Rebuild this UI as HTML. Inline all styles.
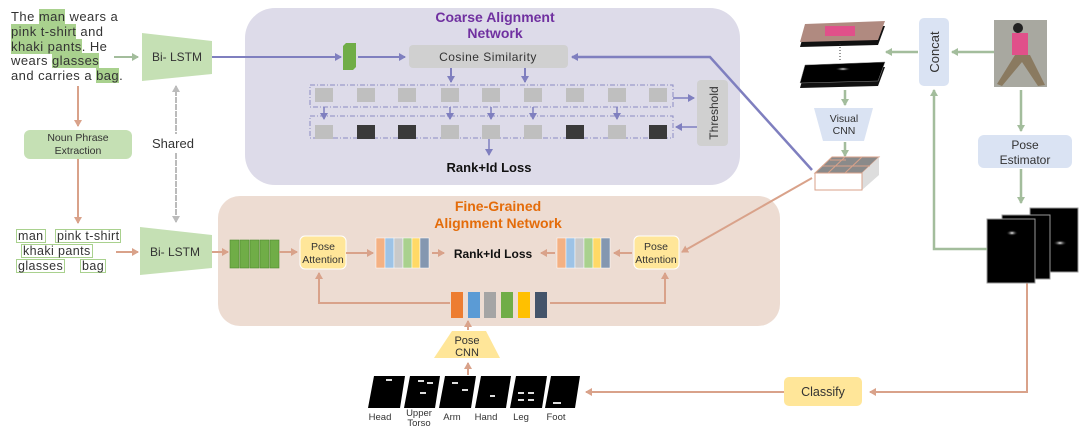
<!DOCTYPE html>
<html><head><meta charset="utf-8"><style>
html,body{margin:0;padding:0;background:#fff;}
svg{display:block;font-family:"Liberation Sans",sans-serif;}
#wrap{position:relative;width:1083px;height:436px;}
.sent{position:absolute;left:11px;top:10px;width:135px;font-family:"Liberation Sans",sans-serif;font-size:13px;letter-spacing:0.45px;line-height:14.8px;color:#333;white-space:nowrap;}
.sent span{background:#a9d18e;}
.nl{position:absolute;font-family:"Liberation Sans",sans-serif;font-size:12.5px;letter-spacing:0.4px;color:#333;border:1.5px solid #a9d18e;background:#fff;line-height:12px;padding:0 1px;white-space:nowrap;}
</style></head><body><div id="wrap">
<svg width="1083" height="436" viewBox="0 0 1083 436" xmlns="http://www.w3.org/2000/svg">
<defs>
<marker id="ab" markerWidth="8" markerHeight="8" refX="6" refY="4" orient="auto" markerUnits="userSpaceOnUse"><path d="M0,0 L7,4 L0,8 z" fill="#7f7fbf"/></marker>
<marker id="ao" markerWidth="8" markerHeight="8" refX="6" refY="4" orient="auto" markerUnits="userSpaceOnUse"><path d="M0,0 L7,4 L0,8 z" fill="#d9a28a"/></marker>
<marker id="ag" markerWidth="8" markerHeight="8" refX="6" refY="4" orient="auto" markerUnits="userSpaceOnUse"><path d="M0,0 L7,4 L0,8 z" fill="#a3bd9c"/></marker>
<marker id="ad" markerWidth="8" markerHeight="8" refX="6" refY="4" orient="auto" markerUnits="userSpaceOnUse"><path d="M0,0 L7,4 L0,8 z" fill="#bbb"/></marker>
<radialGradient id="spot"><stop offset="0" stop-color="#fff"/><stop offset="1" stop-color="#000" stop-opacity="0"/></radialGradient>
</defs>

<rect x="245" y="8" width="495" height="177" rx="30" fill="#dddbe9"/>
<rect x="218" y="196" width="562" height="130" rx="22" fill="#eddcd2"/>
<text x="495" y="22" text-anchor="middle" font-size="14" font-weight="bold" fill="#7030a0">Coarse Alignment</text>
<text x="495" y="38" text-anchor="middle" font-size="14" font-weight="bold" fill="#7030a0">Network</text>
<text x="498" y="211" text-anchor="middle" font-size="14" font-weight="bold" fill="#e46c0a">Fine-Grained</text>
<text x="498" y="228" text-anchor="middle" font-size="14" font-weight="bold" fill="#e46c0a">Alignment Network</text>

<line x1="114" y1="57" x2="138" y2="57" stroke="#a3bd9c" stroke-width="2" marker-end="url(#ag)"/>

<polygon points="142,33 212,41 212,74 142,81" fill="#c5e0b4"/>
<text x="177" y="61" text-anchor="middle" font-size="12" fill="#333">Bi- LSTM</text>
<polygon points="140,227 212,235 212,268 140,275" fill="#c5e0b4"/>
<text x="175" y="256" text-anchor="middle" font-size="12" fill="#333">Bi- LSTM</text>
<line x1="176" y1="222" x2="176" y2="86" stroke="#bbb" stroke-width="2" stroke-dasharray="4,3" marker-end="url(#ad)"/>
<line x1="176" y1="90" x2="176" y2="222" stroke="#bbb" stroke-width="2" stroke-dasharray="4,3" marker-end="url(#ad)"/>
<rect x="150" y="134" width="60" height="18" fill="#fff"/>
<text x="152" y="148" font-size="13" fill="#333">Shared</text>

<line x1="78" y1="86" x2="78" y2="126" stroke="#d9a28a" stroke-width="2" marker-end="url(#ao)"/>
<rect x="24" y="130" width="108" height="29" rx="6" fill="#c5e0b4"/>
<text x="78" y="141" text-anchor="middle" font-size="10.5" fill="#333">Noun Phrase</text>
<text x="78" y="154" text-anchor="middle" font-size="10.5" fill="#333">Extraction</text>
<line x1="78" y1="159" x2="78" y2="223" stroke="#d9a28a" stroke-width="2" marker-end="url(#ao)"/>
<line x1="116" y1="252" x2="138" y2="252" stroke="#d9a28a" stroke-width="2" marker-end="url(#ao)"/>

<line x1="212" y1="57" x2="341" y2="57" stroke="#7f7fbf" stroke-width="2" marker-end="url(#ab)"/>
<polygon points="343,46 346,43 356,43 356,67 353,70 343,70" fill="#70ad47"/>
<line x1="358" y1="57" x2="405" y2="57" stroke="#7f7fbf" stroke-width="2" marker-end="url(#ab)"/>
<rect x="409" y="45" width="159" height="23" rx="4" fill="#d0d0d0"/>
<text x="488" y="61" text-anchor="middle" font-size="12" fill="#333" letter-spacing="0.5">Cosine  Similarity</text>
<polyline points="812,170 710,57 572,57" fill="none" stroke="#7f7fbf" stroke-width="2.5" marker-end="url(#ab)"/>
<line x1="451" y1="68" x2="451" y2="82" stroke="#7f7fbf" stroke-width="2" marker-end="url(#ab)"/>
<line x1="525" y1="68" x2="525" y2="82" stroke="#7f7fbf" stroke-width="2" marker-end="url(#ab)"/>
<rect x="310" y="85" width="363" height="22" fill="none" stroke="#8b8bc4" stroke-dasharray="5,2,1,2"/>
<rect x="310" y="116" width="363" height="22" fill="none" stroke="#8b8bc4" stroke-dasharray="5,2,1,2"/>
<g fill="#bfbfbf">
<rect x="315" y="88" width="18" height="14"/><rect x="357" y="88" width="18" height="14"/><rect x="398" y="88" width="18" height="14"/><rect x="441" y="88" width="18" height="14"/><rect x="482" y="88" width="18" height="14"/><rect x="524" y="88" width="18" height="14"/><rect x="566" y="88" width="18" height="14"/><rect x="608" y="88" width="18" height="14"/><rect x="649" y="88" width="18" height="14"/>
<rect x="315" y="125" width="18" height="14"/><rect x="441" y="125" width="18" height="14"/><rect x="482" y="125" width="18" height="14"/><rect x="524" y="125" width="18" height="14"/><rect x="608" y="125" width="18" height="14"/>
</g>
<g fill="#3a3a3a">
<rect x="357" y="125" width="18" height="14"/><rect x="398" y="125" width="18" height="14"/><rect x="566" y="125" width="18" height="14"/><rect x="649" y="125" width="18" height="14"/>
</g>
<g stroke="#7f7fbf" stroke-width="1.5" marker-end="url(#ab)">
<line x1="324" y1="107" x2="324" y2="119"/><line x1="450" y1="107" x2="450" y2="119"/><line x1="491" y1="107" x2="491" y2="119"/><line x1="533" y1="107" x2="533" y2="119"/><line x1="617" y1="107" x2="617" y2="119"/>
<line x1="673" y1="98" x2="694" y2="98"/><line x1="697" y1="127" x2="676" y2="127"/>
<line x1="489" y1="139" x2="489" y2="155"/>
</g>
<rect x="697" y="80" width="31" height="66" rx="4" fill="#d0d0d0"/>
<text transform="translate(718,113) rotate(-90)" text-anchor="middle" font-size="12" fill="#333">Threshold</text>
<text x="489" y="172" text-anchor="middle" font-size="13" font-weight="bold" fill="#111">Rank+Id Loss</text>

<line x1="212" y1="252" x2="228" y2="252" stroke="#d9a28a" stroke-width="2" marker-end="url(#ao)"/>
<g fill="#70ad47" stroke="#4e8a30" stroke-width="0.6">
<rect x="230" y="240" width="9" height="28"/><rect x="240" y="240" width="9" height="28"/><rect x="250" y="240" width="9" height="28"/><rect x="260" y="240" width="9" height="28"/><rect x="270" y="240" width="9" height="28"/>
</g>
<line x1="279" y1="252" x2="297" y2="252" stroke="#d9a28a" stroke-width="2" marker-end="url(#ao)"/>
<rect x="300" y="236" width="46" height="33" rx="5" fill="#ffe699" stroke="#fff"/>
<text x="323" y="250" text-anchor="middle" font-size="10.5" fill="#333">Pose</text>
<text x="323" y="263" text-anchor="middle" font-size="10.5" fill="#333">Attention</text>
<line x1="346" y1="253" x2="373" y2="253" stroke="#d9a28a" stroke-width="2" marker-end="url(#ao)"/>
<g stroke="#fff" stroke-width="0.5">
<rect x="376" y="238" width="9" height="30" fill="#f4b183"/><rect x="385" y="238" width="9" height="30" fill="#9dc3e6"/><rect x="394" y="238" width="9" height="30" fill="#c9c9c9"/><rect x="403" y="238" width="9" height="30" fill="#a9d18e"/><rect x="412" y="238" width="8" height="30" fill="#ffd966"/><rect x="420" y="238" width="9" height="30" fill="#8497b0"/>
<rect x="557" y="238" width="9" height="30" fill="#f4b183"/><rect x="566" y="238" width="9" height="30" fill="#9dc3e6"/><rect x="575" y="238" width="9" height="30" fill="#c9c9c9"/><rect x="584" y="238" width="9" height="30" fill="#a9d18e"/><rect x="593" y="238" width="8" height="30" fill="#ffd966"/><rect x="601" y="238" width="9" height="30" fill="#8497b0"/>
</g>
<line x1="432" y1="253" x2="444" y2="253" stroke="#d9a28a" stroke-width="2" marker-end="url(#ao)"/>
<text x="493" y="258" text-anchor="middle" font-size="12" font-weight="bold" fill="#111">Rank+Id Loss</text>
<line x1="555" y1="253" x2="541" y2="253" stroke="#d9a28a" stroke-width="2" marker-end="url(#ao)"/>
<line x1="632" y1="253" x2="614" y2="253" stroke="#d9a28a" stroke-width="2" marker-end="url(#ao)"/>
<rect x="634" y="236" width="45" height="33" rx="5" fill="#ffe699" stroke="#fff"/>
<text x="656" y="250" text-anchor="middle" font-size="10.5" fill="#333">Pose</text>
<text x="656" y="263" text-anchor="middle" font-size="10.5" fill="#333">Attention</text>
<line x1="812" y1="178" x2="682" y2="252" stroke="#d9a28a" stroke-width="2" marker-end="url(#ao)"/>
<polyline points="450,303 319,303 319,273" fill="none" stroke="#d9a28a" stroke-width="2" marker-end="url(#ao)"/>
<polyline points="550,303 665,303 665,273" fill="none" stroke="#d9a28a" stroke-width="2" marker-end="url(#ao)"/>
<g>
<rect x="451" y="292" width="12" height="26" fill="#ed7d31"/><rect x="468" y="292" width="12" height="26" fill="#5b9bd5"/><rect x="484" y="292" width="12" height="26" fill="#a5a5a5"/><rect x="501" y="292" width="12" height="26" fill="#70ad47"/><rect x="518" y="292" width="12" height="26" fill="#ffc000"/><rect x="535" y="292" width="12" height="26" fill="#44546a"/>
</g>
<line x1="468" y1="330" x2="468" y2="321" stroke="#d9a28a" stroke-width="2" marker-end="url(#ao)"/>
<polygon points="452,331 486,331 500,358 434,358" fill="#ffe699"/>
<text x="467" y="344" text-anchor="middle" font-size="11" fill="#333">Pose</text>
<text x="467" y="356" text-anchor="middle" font-size="11" fill="#333">CNN</text>
<line x1="468" y1="375" x2="468" y2="363" stroke="#d9a28a" stroke-width="2" marker-end="url(#ao)"/>
<g fill="#000">
<polygon points="374,376 405,376 400,408 368,408"/>
<polygon points="410,376 440,376 435,408 404,408"/>
<polygon points="445,376 476,376 471,408 439,408"/>
<polygon points="481,376 511,376 506,408 475,408"/>
<polygon points="516,376 547,376 542,408 510,408"/>
<polygon points="551,376 580,376 575,408 545,408"/>
</g>
<g fill="#ddd"><rect x="386" y="379" width="6" height="2"/><rect x="418" y="380" width="6" height="2"/><rect x="427" y="382" width="6" height="2"/><rect x="420" y="392" width="6" height="2"/><rect x="452" y="382" width="6" height="2"/><rect x="462" y="389" width="6" height="2"/><rect x="490" y="395" width="5" height="2"/><rect x="518" y="392" width="6" height="2"/><rect x="518" y="399" width="6" height="2"/><rect x="528" y="392" width="6" height="2"/><rect x="528" y="399" width="6" height="2"/><rect x="553" y="402" width="8" height="2"/></g>
<g font-size="9.5" fill="#333" text-anchor="middle">
<text x="380" y="420">Head</text><text x="419" y="416">Upper</text><text x="419" y="426">Torso</text><text x="452" y="420">Arm</text><text x="486" y="420">Hand</text><text x="521" y="420">Leg</text><text x="556" y="420">Foot</text>
</g>
<polyline points="1027,283 1027,392 870,392" fill="none" stroke="#d9a28a" stroke-width="2" marker-end="url(#ao)"/>
<rect x="784" y="377" width="78" height="29" rx="5" fill="#ffe699"/>
<text x="823" y="396" text-anchor="middle" font-size="12.5" fill="#333">Classify</text>
<line x1="784" y1="392" x2="586" y2="392" stroke="#d9a28a" stroke-width="2" marker-end="url(#ao)"/>

<polygon points="805,29 885,26 878,45 800,47" fill="#111"/>
<polygon points="805,24 885,21 878,40 800,42" fill="#b08a80"/>
<rect x="825" y="26" width="30" height="10" fill="#e0508a"/>
<line x1="840" y1="44" x2="840" y2="60" stroke="#333" stroke-dasharray="1,2"/>
<polygon points="805,70 885,67 878,86 800,88" fill="#111"/>
<polygon points="805,65 885,62 878,81 800,83" fill="#000" stroke="#888" stroke-width="0.5"/>
<ellipse cx="843" cy="69" rx="8" ry="2" fill="url(#spot)"/>
<line x1="845" y1="90" x2="845" y2="105" stroke="#a3bd9c" stroke-width="2.5" marker-end="url(#ag)"/>
<polygon points="814,108 873,108 864,141 823,141" fill="#dae3f3"/>
<text x="844" y="122" text-anchor="middle" font-size="10.5" fill="#333">Visual</text>
<text x="844" y="134" text-anchor="middle" font-size="10.5" fill="#333">CNN</text>
<line x1="845" y1="142" x2="845" y2="156" stroke="#a3bd9c" stroke-width="2.5" marker-end="url(#ag)"/>
<polygon points="815,173 832,157 879,157 862,173" fill="#8a8a8a" stroke="#d9a28a"/>
<polygon points="862,173 879,157 879,175 862,190" fill="#ddd"/>
<rect x="815" y="173" width="47" height="17" fill="#fff" stroke="#d9a28a"/>
<line x1="830" y1="160" x2="846" y2="160" stroke="#d9a28a"/>
<line x1="822" y1="166" x2="870" y2="166" stroke="#d9a28a"/>
<line x1="845" y1="157" x2="828" y2="173" stroke="#d9a28a"/>
<line x1="862" y1="157" x2="845" y2="173" stroke="#d9a28a"/>
<line x1="918" y1="52" x2="886" y2="52" stroke="#a3bd9c" stroke-width="2.5" marker-end="url(#ag)"/>
<rect x="919" y="18" width="30" height="68" rx="5" fill="#dae3f3"/>
<text transform="translate(939,52) rotate(-90)" text-anchor="middle" font-size="13" fill="#333">Concat</text>
<line x1="994" y1="52" x2="952" y2="52" stroke="#a3bd9c" stroke-width="2.5" marker-end="url(#ag)"/>
<rect x="994" y="20" width="53" height="67" fill="#a8a8a0"/>
<rect x="1012" y="33" width="16" height="22" fill="#e0508a"/>
<circle cx="1018" cy="28" r="5" fill="#222"/>
<polygon points="1015,55 1030,55 1045,85 1038,86 1022,62 1002,86 997,84" fill="#8a7a60"/>
<line x1="1021" y1="90" x2="1021" y2="131" stroke="#a3bd9c" stroke-width="2.5" marker-end="url(#ag)"/>
<rect x="978" y="135" width="94" height="33" rx="6" fill="#dae3f3"/>
<text x="1025" y="149" text-anchor="middle" font-size="12" fill="#333">Pose</text>
<text x="1025" y="164" text-anchor="middle" font-size="12" fill="#333">Estimator</text>
<line x1="1021" y1="169" x2="1021" y2="203" stroke="#a3bd9c" stroke-width="2.5" marker-end="url(#ag)"/>
<rect x="1030" y="208" width="48" height="64" fill="#000" stroke="#999"/>
<rect x="1002" y="215" width="48" height="64" fill="#000" stroke="#999"/>
<rect x="987" y="219" width="48" height="64" fill="#000" stroke="#999"/>
<ellipse cx="1012" cy="233" rx="6" ry="3" fill="url(#spot)"/>
<ellipse cx="1060" cy="243" rx="7" ry="3" fill="url(#spot)"/>
<polyline points="987,249 934,249 934,90" fill="none" stroke="#a3bd9c" stroke-width="2.5" marker-end="url(#ag)"/>
</svg>
<div class="sent">The <span>man</span> wears a<br><span>pink t-shirt</span> and<br><span>khaki pants</span>. He<br>wears <span>glasses</span><br>and carries a <span>bag</span>.</div>
<div class="nl" style="left:16px;top:229px;">man</div>
<div class="nl" style="left:55px;top:229px;">pink t-shirt</div>
<div class="nl" style="left:21px;top:244px;">khaki pants</div>
<div class="nl" style="left:16px;top:259px;">glasses</div>
<div class="nl" style="left:80px;top:259px;">bag</div>
</div></body></html>
